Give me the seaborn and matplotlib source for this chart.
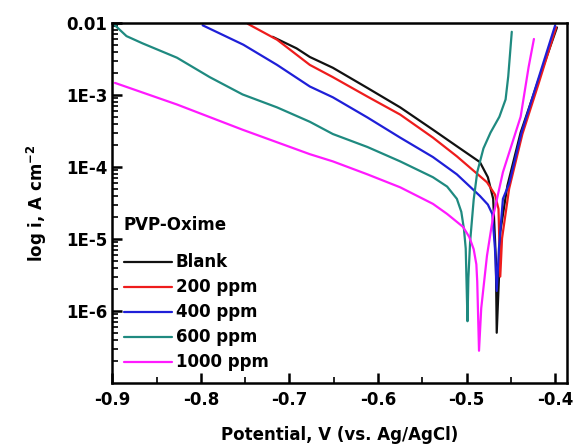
import numpy as np
import pandas as pd
import matplotlib
matplotlib.use("Agg")
import matplotlib.pyplot as plt
from matplotlib.ticker import MultipleLocator, LogLocator, NullFormatter
import seaborn as sns

sns.set_style("ticks")
plt.rcParams['font.family'] = ['DejaVu Sans']
plt.rcParams.update({'text.color': 'black', 'axes.labelcolor': 'black',
                     'xtick.color': 'black', 'ytick.color': 'black', 'axes.edgecolor': 'black'})

# ---- data (potential V, log10 current density) ----
blank_v = [-0.719, -0.692, -0.677, -0.651, -0.612, -0.575, -0.538, -0.511, -0.485, -0.476, -0.470, -0.467, -0.466,
           -0.4635, -0.462, -0.454, -0.439, -0.420, -0.398]
blank_log = [-2.19, -2.35, -2.47, -2.62, -2.90, -3.17, -3.48, -3.71, -3.93, -4.14, -4.44, -5.27, -6.30,
             -5.54, -4.90, -4.26, -3.52, -2.83, -2.06]

ppm200_v = [-0.747, -0.714, -0.677, -0.651, -0.612, -0.575, -0.538, -0.511, -0.477, -0.468, -0.464, -0.462,
            -0.460, -0.452, -0.437, -0.419, -0.399]
ppm200_log = [-2.01, -2.23, -2.58, -2.75, -3.02, -3.27, -3.59, -3.85, -4.21, -4.38, -4.58, -5.52,
              -4.99, -4.30, -3.54, -2.85, -2.06]

ppm400_v = [-0.798, -0.752, -0.714, -0.677, -0.651, -0.612, -0.575, -0.538, -0.511, -0.485, -0.476, -0.471, -0.468,
            -0.466,
            -0.4635, -0.459, -0.452, -0.438, -0.420, -0.400]
ppm400_log = [-2.03, -2.30, -2.58, -2.88, -3.03, -3.31, -3.59, -3.86, -4.10, -4.40, -4.52, -4.65, -5.13,
              -5.72,
              -5.13, -4.44, -4.23, -3.52, -2.81, -2.03]

ppm600_v = [-0.897, -0.884, -0.866, -0.827, -0.790, -0.753, -0.714, -0.677, -0.651, -0.612, -0.575, -0.538, -0.522,
            -0.511, -0.506, -0.503, -0.501, -0.499,
            -0.498, -0.496, -0.492, -0.488, -0.481, -0.473, -0.463, -0.456, -0.453, -0.449]
ppm600_log = [-2.03, -2.18, -2.28, -2.48, -2.75, -2.99, -3.17, -3.37, -3.54, -3.72, -3.92, -4.14, -4.27,
              -4.44, -4.62, -4.86, -5.13, -6.14,
              -5.54, -5.03, -4.45, -4.07, -3.74, -3.52, -3.30, -3.06, -2.74, -2.12]

ppm1000_v = [-0.897, -0.827, -0.753, -0.677, -0.651, -0.612, -0.575, -0.538, -0.522, -0.504, -0.497, -0.492,
             -0.489, -0.488, -0.486,
             -0.4835, -0.477, -0.470, -0.459, -0.439, -0.430, -0.424]
ppm1000_log = [-2.83, -3.13, -3.48, -3.82, -3.92, -4.10, -4.28, -4.51, -4.65, -4.83, -4.97, -5.14,
               -5.35, -5.59, -6.55,
               -5.96, -5.23, -4.68, -4.07, -3.30, -2.61, -2.22]

labels = ['Blank', '200 ppm', '400 ppm', '600 ppm', '1000 ppm']
colors = ['#111111', '#ee1c1c', '#1f1fd8', '#1f8a80', '#ff1aff']
series_v = [blank_v, ppm200_v, ppm400_v, ppm600_v, ppm1000_v]
series_log = [blank_log, ppm200_log, ppm400_log, ppm600_log, ppm1000_log]

rows = []
for lab, vs, ls in zip(labels, series_v, series_log):
    for k, (v, l) in enumerate(zip(vs, ls)):
        rows.append({'Sample': lab, 'order': k, 'E': v, 'i': 10.0 ** l})
df = pd.DataFrame(rows)

fig = plt.figure(figsize=(5.73, 4.45), dpi=100)
ax = fig.add_axes([0.196, 0.139, 0.793, 0.809])

sns.lineplot(data=df, x='E', y='i', hue='Sample', hue_order=labels, palette=colors,
             units='Sample', estimator=None, sort=False, linewidth=1.6, ax=ax)

ax.set_yscale('log')
ax.set_xlim(-0.9, -0.387)
ax.set_ylim(1e-7, 1e-2)

ax.xaxis.set_minor_locator(MultipleLocator(0.05))
ax.set_xticks([-0.9, -0.8, -0.7, -0.6, -0.5, -0.4])
ax.set_xticklabels(['-0.9', '-0.8', '-0.7', '-0.6', '-0.5', '-0.4'])
ax.set_yticks([1e-2, 1e-3, 1e-4, 1e-5, 1e-6])
ax.set_yticklabels(['0.01', '1E-3', '1E-4', '1E-5', '1E-6'])
ax.yaxis.set_minor_locator(LogLocator(base=10, subs=np.arange(2, 10), numticks=20))
ax.yaxis.set_minor_formatter(NullFormatter())

ax.tick_params(which='major', direction='in', length=7, width=1.8, labelsize=12, color='black')
ax.tick_params(axis='x', which='major', pad=6)
ax.tick_params(which='minor', direction='in', length=4, width=1.2, color='black')
for lab in ax.get_xticklabels() + ax.get_yticklabels():
    lab.set_fontweight('bold')
for sp in ax.spines.values():
    sp.set_linewidth(1.8)
    sp.set_color('black')
    sp.set_visible(True)

ax.set_xlabel('Potential, V (vs. Ag/AgCl)', fontsize=12, fontweight='bold', labelpad=12)
ax.set_ylabel('log i, A cm$^{\\mathbf{-2}}$', fontsize=12, fontweight='bold', labelpad=12)

leg = ax.legend(title='PVP-Oxime', loc='lower left', frameon=False, fontsize=12,
                handlelength=2.9, handletextpad=0.2, labelspacing=0.42,
                borderaxespad=0.3, bbox_to_anchor=(0.0, 0.0))
leg.get_title().set_fontweight('bold')
leg.get_title().set_fontsize(12)
leg._legend_box.align = 'left'
leg._legend_box.sep = 14
for t in leg.get_texts():
    t.set_fontweight('bold')

fig.savefig('out.png', dpi=100)
